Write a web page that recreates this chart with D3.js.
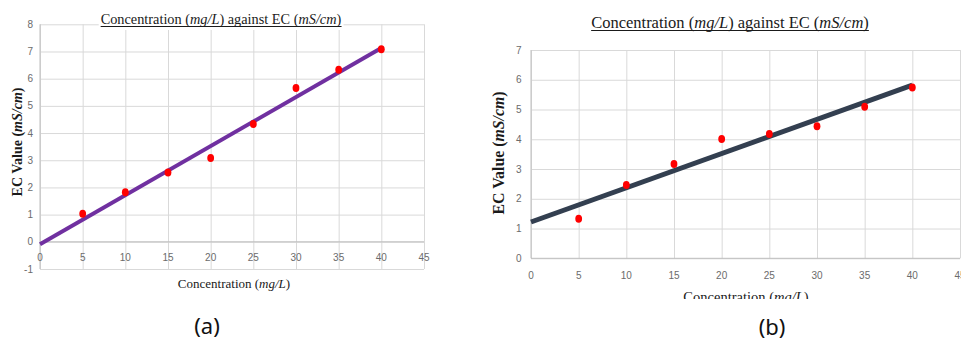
<!DOCTYPE html>
<html>
<head>
<meta charset="utf-8">
<script src="https://cdn.jsdelivr.net/npm/d3@7"></script>
<style>
  body { margin: 0; background: #fff; }
  svg { display: block; }
  .tick-label { font-family: 'Liberation Sans', sans-serif; font-size: 10px; fill: #6b6b6b; }
  .serif { font-family: 'Liberation Serif', 'Times New Roman', serif; fill: #1a1a1a; }
  .caption { font-family: 'Noto Sans', 'Open Sans', sans-serif; font-size: 22px; fill: #111; }
</style>
</head>
<body>
<script>
'use strict';

// Data
var concentration = [5, 10, 15, 20, 25, 30, 35, 40];
var ecValuesA = [1.03, 1.82, 2.55, 3.08, 4.33, 5.66, 6.33, 7.08];
var ecValuesB = [1.33, 2.46, 3.17, 4.01, 4.18, 4.44, 5.09, 5.74];
// trendline end points [x, y]
var trendA = [[0, -0.09], [40, 7.13]];
var trendB = [[0, 1.22], [40, 5.82]];
var xTicks = [0, 5, 10, 15, 20, 25, 30, 35, 40, 45];
var yTicksA = [-1, 0, 1, 2, 3, 4, 5, 6, 7, 8];
var yTicksB = [0, 1, 2, 3, 4, 5, 6, 7];

var svg = d3.select('body').append('svg')
  .attr('width', 961)
  .attr('height', 340);

var drawPanel = function(opts) {
  var g = svg.append('g');
  var x = d3.scaleLinear().domain([0, 45]).range([opts.left, opts.right]);
  var y = d3.scaleLinear().domain(opts.yDomain).range([opts.bottom, opts.top]);

  if (opts.clipBottom) {
    svg.append('clipPath').attr('id', opts.id + '-clip')
      .append('rect').attr('x', opts.left - 80).attr('y', 0)
      .attr('width', 961).attr('height', opts.clipBottom);
    g.attr('clip-path', 'url(#' + opts.id + '-clip)');
  }

  // gridlines
  g.append('g')
    .attr('transform', 'translate(0,' + opts.bottom + ')')
    .call(d3.axisBottom(x).tickValues(xTicks).tickSize(-(opts.bottom - opts.top)).tickFormat(''))
    .call(function(sel) {
      sel.select('.domain').remove();
      sel.selectAll('line').attr('stroke', '#d9d9d9');
    });

  g.append('g')
    .attr('transform', 'translate(' + opts.left + ',0)')
    .call(d3.axisLeft(y).tickValues(opts.yTicks).tickSize(-(opts.right - opts.left)).tickFormat(''))
    .call(function(sel) {
      sel.select('.domain').remove();
      sel.selectAll('line').attr('stroke', '#d9d9d9');
    });

  // axis lines
  g.append('line')
    .attr('x1', opts.left).attr('x2', opts.left)
    .attr('y1', opts.top).attr('y2', opts.bottom)
    .attr('stroke', '#bfbfbf');
  g.append('line')
    .attr('x1', opts.left).attr('x2', opts.right)
    .attr('y1', y(0)).attr('y2', y(0))
    .attr('stroke', '#bfbfbf');

  // tick labels
  g.selectAll('text.xt')
    .data(xTicks)
    .enter().append('text')
    .attr('class', 'tick-label xt')
    .attr('x', function(d) { return x(d); })
    .attr('y', y(0) + opts.xLabelOffset)
    .attr('text-anchor', 'middle')
    .text(function(d) { return d; });

  g.selectAll('text.yt')
    .data(opts.yTicks)
    .enter().append('text')
    .attr('class', 'tick-label yt')
    .attr('x', opts.left - opts.yLabelOffset)
    .attr('y', function(d) { return y(d) + 3.5; })
    .attr('text-anchor', 'end')
    .text(function(d) { return d; });

  // trendline
  g.append('line')
    .attr('x1', x(opts.trend[0][0])).attr('y1', y(opts.trend[0][1]))
    .attr('x2', x(opts.trend[1][0])).attr('y2', y(opts.trend[1][1]))
    .attr('stroke', opts.lineColor)
    .attr('stroke-width', opts.lineWidth);

  // points
  g.selectAll('ellipse.pt')
    .data(concentration)
    .enter().append('ellipse')
    .attr('class', 'pt')
    .attr('cx', function(d) { return x(d); })
    .attr('cy', function(d, i) { return y(opts.values[i]); })
    .attr('rx', 3.4)
    .attr('ry', 4)
    .attr('fill', '#ff0000');

  // title with white background, underlined
  var title = g.append('text')
    .attr('class', 'serif')
    .attr('x', opts.titleX)
    .attr('y', opts.titleY)
    .attr('text-anchor', 'middle')
    .style('font-size', opts.titleSize + 'px');
  title.append('tspan').text('Concentration (');
  title.append('tspan').style('font-style', 'italic').text('mg/L');
  title.append('tspan').text(') against EC (');
  title.append('tspan').style('font-style', 'italic').text('mS/cm');
  title.append('tspan').text(')');
  var tb = title.node().getBBox();
  g.insert('rect', function() { return title.node(); })
    .attr('x', tb.x - 2).attr('y', tb.y)
    .attr('width', tb.width + 4).attr('height', tb.height + 2)
    .attr('fill', '#fff');
  g.append('line')
    .attr('x1', tb.x).attr('x2', tb.x + tb.width)
    .attr('y1', opts.titleY + 2.5).attr('y2', opts.titleY + 2.5)
    .attr('stroke', '#1a1a1a').attr('stroke-width', 1);

  // x axis title
  var xt = g.append('text')
    .attr('class', 'serif')
    .attr('x', opts.xTitleX)
    .attr('y', opts.xTitleY)
    .attr('text-anchor', 'middle')
    .style('font-size', opts.axisTitleSize + 'px');
  xt.append('tspan').text('Concentration (');
  xt.append('tspan').style('font-style', 'italic').text('mg/L');
  xt.append('tspan').text(')');

  // y axis title
  var yt = g.append('text')
    .attr('class', 'serif')
    .attr('transform', 'translate(' + opts.yTitleX + ',' + opts.yTitleY + ') rotate(-90)')
    .attr('text-anchor', 'middle')
    .style('font-size', opts.yTitleSize + 'px')
    .style('font-weight', 'bold');
  yt.append('tspan').text('EC Value (');
  yt.append('tspan').style('font-style', 'italic').text('mS/cm');
  yt.append('tspan').text(')');

  // caption
  svg.append('text')
    .attr('class', 'caption')
    .attr('x', opts.captionX)
    .attr('y', opts.captionY)
    .attr('text-anchor', 'middle')
    .text(opts.caption);
};

drawPanel({
  id: 'a',
  left: 40, right: 424, top: 24.3, bottom: 269,
  yDomain: [-1, 8], yTicks: yTicksA,
  values: ecValuesA, trend: trendA,
  lineColor: '#7030a0', lineWidth: 4,
  xLabelOffset: 19.5, yLabelOffset: 7,
  titleX: 221, titleY: 24, titleSize: 14.3,
  xTitleX: 234, xTitleY: 288, axisTitleSize: 13,
  yTitleX: 22, yTitleY: 142, yTitleSize: 14,
  caption: '(a)', captionX: 207, captionY: 334
});

drawPanel({
  id: 'b',
  left: 531, right: 960, top: 50, bottom: 258.3,
  yDomain: [0, 7], yTicks: yTicksB,
  values: ecValuesB, trend: trendB,
  lineColor: '#333f50', lineWidth: 5,
  xLabelOffset: 21, yLabelOffset: 9.5,
  titleX: 730, titleY: 28, titleSize: 16.5,
  xTitleX: 746, xTitleY: 302, axisTitleSize: 14.5,
  yTitleX: 504, yTitleY: 153, yTitleSize: 15.8,
  clipBottom: 299,
  caption: '(b)', captionX: 772, captionY: 335
});
</script>
</body>
</html>
